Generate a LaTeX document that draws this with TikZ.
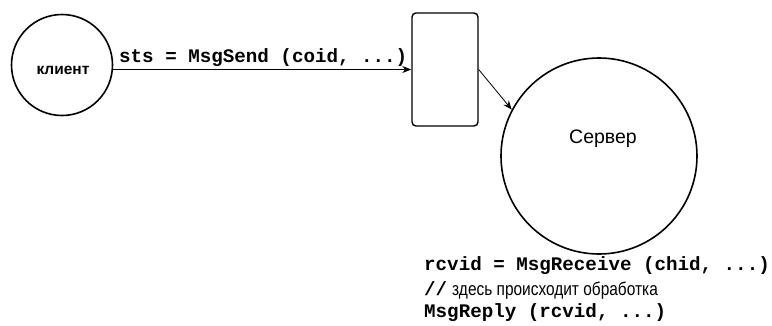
\documentclass[tikz,border=0pt]{standalone}
\usepackage{fontspec}
\setmainfont{Liberation Sans}
\newfontfamily\codefont{Liberation Mono}
\newfontfamily\narrowfont[FakeStretch=0.835]{Liberation Sans}
\usetikzlibrary{arrows.meta}
\tikzset{
  proc/.style={draw, circle, line width=1.6pt, inner sep=0pt},
  chan/.style={draw, rounded corners=4pt, line width=1.4pt, inner sep=0pt},
  msg/.style={draw, line width=0.8pt, -{Stealth[length=9pt,width=7pt]}},
  code/.style={font=\codefont\bfseries\fontsize{19.2}{22}\selectfont, inner sep=0pt, anchor=west},
}
\begin{document}
\begin{tikzpicture}[x=1pt,y=-1pt]
\useasboundingbox (0,0) rectangle (772,325);
\node[proc, minimum size=101pt] (client) at (62,65) {};
\node[font=\bfseries\fontsize{15.5}{18}\selectfont] (clientlbl) at (63,70) {клиент};
\node[chan, minimum width=66pt, minimum height=113pt] (box) at (445,69.5) {};
\node[proc, minimum size=196pt] (server) at (599,156) {};
\node[font=\fontsize{19.5}{22}\selectfont] (serverlbl) at (603,139) {Сервер};
\draw[msg] (client.east |- box.west) -- (box.west);
\node[code] (send) at (119,58) {sts = MsgSend (coid, ...)};
\draw[msg] (box.east |- box.west) -- (server.152);
\node[code] (l1) at (424,266) {rcvid = MsgReceive (chid, ...)};
\node[code] (l2) at (424,290) {//\hspace{5pt}{\narrowfont\mdseries\fontsize{18.5}{22}\selectfont здесь происходит обработка}};
\node[code] (l3) at (424,313) {MsgReply (rcvid, ...)};
\end{tikzpicture}
\end{document}
